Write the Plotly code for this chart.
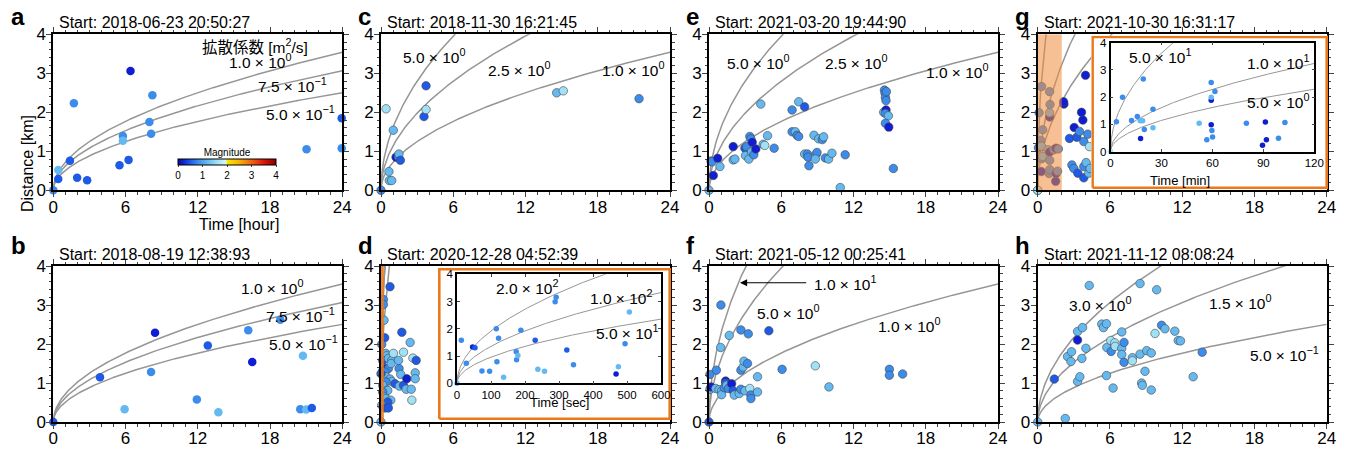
import numpy as np
import plotly.graph_objects as go

W, H = 1350, 451
FONT = "Liberation Sans, Arial, Noto Sans CJK JP, sans-serif"

# magnitude classes
N, B, M, L, P = 0.2, 0.5, 0.8, 1.2, 1.6

# ---------------- data (time [hour], distance [km], magnitude) ----------------
a_t = [0, 0.41, 0.41, 1.38, 1.71, 1.98, 2.81, 5.5, 5.78, 5.78, 6.25, 6.41, 7.98, 8.12, 8.23, 21.03, 23.95, 23.95]
a_r = [0, 0.52, 0.29, 0.76, 2.23, 0.32, 0.26, 0.64, 1.39, 1.27, 0.78, 3.06, 1.75, 1.45, 2.44, 1.05, 1.85, 1.08]
a_m = [M, L, B, B, M, B, B, B, M, L, B, N, M, M, M, M, B, M]

b_t = [0, 3.88, 5.92, 8.12, 8.45, 11.92, 12.83, 13.71, 16.19, 16.52, 18.85, 20.73, 20.51, 21.0, 21.47]
b_r = [0, 1.15, 0.33, 1.28, 2.29, 0.58, 1.96, 0.25, 2.35, 1.54, 2.62, 1.70, 0.33, 0.32, 0.36]
b_m = [B, B, L, M, N, M, B, L, M, N, M, L, M, L, B]

c_t = [0, 0.42, 0.66, 0.69, 0.89, 1.02, 1.25, 1.44, 1.49, 1.61, 3.57, 3.74, 3.74, 14.59, 15.14, 21.43]
c_r = [0, 2.09, 0.48, 0.25, 0.25, 1.54, 0.85, 0.86, 0.93, 0.77, 1.89, 2.68, 2.07, 2.50, 2.55, 2.35]
c_m = [M, P, L, L, L, L, N, M, L, B, B, B, P, L, P, M]

d_t = [0, 0.2, 0.2, 0.25, 0.31, 0.06, 0.75, 0.39, 0.42, 0.47,
       0.14, 0.14, 0.61, 0.61, 0.89, 1.03, 0.84, 0.33, 0.42, 0.75,
       0.89, 1.17, 0.42, 0.14, 0.47, 0.56, 0.14, 0.28, 0.42, 0.81,
       0.56, 0.06, 0.33, 0.61, 0.0, 1.45, 1.5, 1.73, 1.64, 1.53,
       1.87, 1.87, 2.14, 2.09, 2.42, 2.51, 2.56, 2.65, 2.84, 2.84,
       2.92]
d_r = [0, 3.14, 3.01, 2.61, 2.16, 1.99, 3.47, 1.76, 1.37, 1.70,
       1.58, 1.31, 1.63, 1.37, 1.58, 1.76, 1.50, 1.28, 1.16, 1.10,
       1.04, 0.98, 1.03, 0.94, 0.81, 0.81, 0.77, 0.64, 0.60, 0.56,
       0.51, 0.43, 0.36, 0.36, 1.24, 1.58, 1.37, 2.30, 1.22, 0.92,
       1.79, 0.94, 1.11, 0.84, 2.04, 0.84, 0.56, 1.64, 1.26, 1.11,
       1.58]
d_m = [L, M, M, L, B, M, B, L, N, L,
       B, N, L, M, L, P, L, M, L, L,
       L, B, M, L, L, L, M, L, L, L,
       B, L, B, B, B, L, M, B, L, L,
       P, B, N, L, L, L, P, P, L, L,
       B]

e_t = [0, 0.17, 0.25, 0.36, 0.72, 0.91, 2.01, 2.01, 2.15, 2.98,
       3.03, 3.31, 3.12, 3.39, 3.48, 3.59, 3.53, 3.72, 3.89, 4.30,
       4.50, 4.63, 4.86, 5.41, 6.90, 6.90, 7.17, 7.45, 7.31, 7.45,
       7.94, 7.94, 8.17, 8.22, 8.30, 8.72, 8.91, 8.97, 8.83, 9.10,
       9.41, 9.52, 9.66, 9.93, 10.21, 10.9, 11.31, 14.57, 14.62, 14.65,
       14.70, 14.73, 14.51, 14.70, 14.65, 14.90, 14.65, 14.93, 15.31]
e_r = [0, 0.75, 0.73, 0.38, 0.82, 0.61, 1.12, 0.78, 0.80, 1.08,
       0.89, 0.80, 1.12, 1.38, 1.32, 1.23, 0.99, 0.91, 1.06, 2.21,
       1.18, 1.15, 1.40, 1.08, 2.06, 1.50, 1.50, 2.27, 1.41, 1.38,
       2.14, 0.93, 0.93, 0.85, 0.63, 1.41, 0.93, 0.97, 0.80, 1.32,
       1.30, 1.37, 0.83, 0.80, 0.95, 0.07, 0.91, 2.57, 2.49, 2.38,
       2.30, 2.53, 2.00, 2.06, 1.97, 1.91, 1.72, 1.62, 0.56]
e_m = [L, M, M, N, N, L, N, L, L, B,
       L, L, M, M, M, N, L, M, N, L,
       L, P, L, M, M, M, L, L, M, M,
       B, L, M, M, M, L, L, M, L, L,
       M, L, M, L, L, L, M, M, M, M,
       M, M, L, N, M, L, M, N, M]

f_t = [0, 0.08, 0.08, 0.17, 0.61, 0.55, 0.83, 0.99, 0.97, 1.05,
       1.05, 1.27, 1.38, 1.38, 1.46, 1.6, 1.68, 1.88, 2.01, 2.1,
       2.51, 2.65, 2.65, 2.65, 2.84, 2.9, 2.98, 3.2, 3.26, 3.39,
       3.48, 3.48, 4.03, 4.03, 4.97, 6.07, 8.83, 9.96, 14.98, 14.98,
       16.08]
f_r = [0, 1.22, 0.84, 0.90, 1.33, 0.86, 0.83, 3.0, 1.91, 0.79,
       0.70, 0.88, 1.05, 1.0, 0.94, 0.86, 2.22, 0.98, 0.80, 0.69,
       0.73, 2.36, 1.33, 0.84, 1.41, 1.56, 0.80, 1.50, 2.26, 0.86,
       0.69, 0.60, 1.16, 0.77, 2.34, 1.35, 1.44, 0.90, 1.35, 1.20,
       1.23]
f_m = [B, M, L, N, M, L, L, M, L, L,
       L, M, N, B, L, M, L, N, B, L,
       L, M, M, M, L, L, L, M, M, P,
       M, M, L, L, B, M, P, L, M, M,
       M]

# panel g: events after the first two hours (hour) ...
g_t = [0, 2.18, 2.15, 2.64, 2.84, 3.0, 3.03, 3.25, 3.33, 3.47,
       3.64, 3.75, 3.83, 3.83, 3.83, 3.97, 4.02, 4.24, 4.3, 4.16, 4.35]
g_r = [0, 2.21, 2.27, 1.33, 0.65, 0.56, 1.61, 1.36, 0.44, 1.51,
       2.0, 1.80, 1.25, 0.61, 0.32, 2.95, 0.71, 0.44, 1.12, 1.44, 0.56]
g_m = [P, N, N, B, M, M, N, B, B, M,
       N, N, M, M, B, N, L, L, P, M, L]

# ... and the first two hours (minutes), shown in the inset
gi_t = [0, 3.5, 7.1, 12.4, 15.8, 17.7, 17.5, 18.9, 19.3, 19.9,
        25.0, 25.0, 52.2, 56.7, 59.3, 59.3, 59.3, 59.3, 59.7, 60.1,
        61.5, 80.0, 89.5, 91.2, 91.8, 98.9, 102.7]
gi_r = [0, 1.09, 1.99, 1.14, 1.28, 0.48, 1.13, 1.13, 2.66, 0.81,
        1.55, 0.87, 1.04, 0.43, 2.53, 1.88, 1.99, 0.98, 0.77, 0.53,
        2.20, 1.04, 0.23, 1.08, 0.43, 0.49, 1.06]
gi_m = [P, M, M, M, M, N, L, L, M, M,
        M, L, L, M, M, N, L, N, M, M,
        M, M, N, N, N, M, M]

# panel d inset: first 600 s (seconds)
di_t = [0, 12.7, 27.4, 46, 52.9, 73.4, 95.9, 115.5, 117.4, 122.3,
        137, 174.2, 175.2, 179.1, 187.9, 230, 237.8, 257.4, 288.7, 291.7,
        323, 342.6, 467.8, 474.7, 494.3, 507]
di_r = [0, 1.58, 0.74, 1.33, 1.30, 0.45, 0.44, 2.0, 0.79, 1.65,
        0.22, 1.16, 0.86, 1.02, 1.95, 1.58, 0.52, 0.44, 2.99, 3.16,
        1.22, 0.68, 0.34, 0.61, 1.45, 2.62]
di_m = [L, M, M, N, B, M, M, M, M, M,
        L, M, M, L, M, B, L, L, M, M,
        B, M, N, L, M, L]

h_t = [0, 1.38, 2.29, 2.48, 2.76, 2.81, 3.31, 3.31, 3.31, 3.5,
       3.67, 3.72, 4.0, 4.28, 5.32, 5.46, 5.71, 5.71, 5.74, 6.07,
       6.1, 6.26, 6.4, 6.43, 6.98, 6.98, 6.98, 7.17, 7.17, 7.86,
       7.86, 8.5, 8.5, 8.63, 8.69, 8.91, 9.05, 9.43, 9.43, 9.74,
       9.88, 10.29, 10.57, 11.39, 11.67, 11.86, 12.91, 13.66]
h_r = [0, 1.10, 0.09, 1.68, 1.55, 1.80, 2.32, 2.10, 1.04, 1.16,
       1.63, 2.42, 1.89, 3.50, 2.51, 2.42, 2.52, 1.19, 1.91, 2.09,
       1.81, 0.87, 2.03, 1.94, 2.31, 1.89, 1.73, 2.04, 1.53, 1.65,
       1.57, 3.55, 1.74, 1.0, 0.94, 1.30, 1.83, 1.77, 0.82, 2.27,
       3.39, 2.48, 2.39, 2.33, 2.09, 2.08, 1.16, 1.79]
h_m = [L, B, L, L, L, L, L, N, L, L,
       L, L, L, L, L, L, L, L, L, P,
       M, L, P, P, L, L, L, M, M, L,
       P, L, L, L, L, L, L, L, L, P,
       L, M, L, L, L, L, L, M]

titles = ["Start: 2018-06-23 20:50:27", "Start: 2018-11-30 16:21:45",
          "Start: 2021-03-20 19:44:90", "Start: 2021-10-30 16:31:17",
          "Start: 2018-08-19 12:38:93", "Start: 2020-12-28 04:52:39",
          "Start: 2021-05-12 00:25:41", "Start: 2021-11-12 08:08:24"]
letters = ["a", "c", "e", "g", "b", "d", "f", "h"]

# diffusion coefficients [m^2/s] for the guide curves
D_a = [1.0, 0.75, 0.5]
D_c = [5.0, 2.5, 1.0]
D_e = [5.0, 2.5, 1.0]
D_g = [50.0, 10.0, 5.0]
D_b = [1.0, 0.75, 0.5]
D_d = [200.0, 100.0, 50.0]
D_f = [10.0, 5.0, 1.0]
D_h = [3.0, 1.5, 0.5]

def sup(m, e):
    return f"{m} × 10<sup>{e}</sup>"

lab_a = [(16.75, 3.69, "拡散係数 [m<sup>2</sup>/s]"), (17.15, 3.32, sup("1.0", "0")),
         (19.9, 2.69, sup("7.5", "−1")), (20.5, 1.97, sup("5.0", "−1"))]
lab_c = [(4.4, 3.44, sup("5.0", "0")), (11.46, 3.12, sup("2.5", "0")), (20.9, 3.12, sup("1.0", "0"))]
lab_e = [(4.1, 3.29, sup("5.0", "0")), (12.2, 3.29, sup("2.5", "0")), (20.6, 3.05, sup("1.0", "0"))]
lab_g = []
lab_b = [(18.2, 3.47, sup("1.0", "0")), (20.5, 2.74, sup("7.5", "−1")), (20.8, 2.02, sup("5.0", "−1"))]
lab_d = []
lab_f = [(11.3, 3.56, sup("1.0", "1")), (6.6, 2.81, sup("5.0", "0")), (16.6, 2.49, sup("1.0", "0"))]
lab_h = [(5.2, 3.02, sup("3.0", "0")), (16.8, 3.07, sup("1.5", "0")), (20.5, 1.74, sup("5.0", "−1"))]
lab_di = [(205, 3.53, sup("2.0", "2")), (482, 3.16, sup("1.0", "2")), (499, 1.88, sup("5.0", "1"))]
lab_gi = [(29.1, 3.5, sup("5.0", "1")), (98.6, 3.29, sup("1.0", "1")), (98.6, 1.85, sup("5.0", "0"))]

# ---------------- styling / layout ----------------
C_MAIN = 3.54 / np.sqrt(24.0)     # km per sqrt(m^2/s * hour)
C_DINS = 0.816
ORANGE = "rgb(235,120,25)"
GREY = "rgb(150,150,150)"
COLORSCALE = [[0.0, "rgb(10,10,140)"], [0.05, "rgb(15,30,210)"], [0.125, "rgb(30,90,230)"],
              [0.2, "rgb(60,140,235)"], [0.3, "rgb(100,185,240)"], [0.4, "rgb(160,225,245)"],
              [0.49, "rgb(215,245,250)"], [0.5, "rgb(250,230,0)"], [0.62, "rgb(250,180,0)"],
              [0.75, "rgb(240,100,20)"], [0.88, "rgb(220,20,10)"], [1.0, "rgb(130,0,0)"]]

COL_LEFT = [53.3, 381.0, 709.0, 1037.7]
PW = 289.0
ROW_TOP = [34.3, 266.0]
PH = 156.0

panels = [
    (a_t, a_r, a_m, D_a, lab_a, False),
    (c_t, c_r, c_m, D_c, lab_c, True),
    (e_t, e_r, e_m, D_e, lab_e, True),
    (g_t + [t / 60 for t in gi_t], g_r + gi_r, g_m + gi_m, D_g, lab_g, True),
    (b_t, b_r, b_m, D_b, lab_b, False),
    (d_t, d_r, d_m, D_d, lab_d, True),
    (f_t, f_r, f_m, D_f, lab_f, True),
    (h_t, h_r, h_m, D_h, lab_h, True),
]

fig = go.Figure()
layout = dict(template="none", width=W, height=H, margin=dict(l=0, r=0, t=0, b=0, autoexpand=False),
              paper_bgcolor="white", plot_bgcolor="white", showlegend=False,
              font=dict(family=FONT, color="black", size=16))
annotations = []
shapes = []

def main_axes(n, left, top):
    xa = dict(domain=[left / W, (left + PW) / W], anchor=f"y{n}", range=[0, 24],
              tickvals=[0, 6, 12, 18, 24], ticks="outside", ticklen=5, tickwidth=1,
              minor=dict(dtick=1, tick0=0, ticks="outside", ticklen=2.5, tickwidth=1),
              showline=True, linewidth=2, linecolor="black", mirror="allticks", automargin=False,
              showgrid=False, zeroline=False, tickfont=dict(size=17), ticklabelstandoff=-5)
    ya = dict(domain=[1 - (top + PH) / H, 1 - top / H], anchor=f"x{n}", range=[0, 4],
              tickvals=[0, 1, 2, 3, 4], ticks="outside", ticklen=5, tickwidth=1,
              minor=dict(dtick=0.2, tick0=0, ticks="outside", ticklen=2.5, tickwidth=1),
              showline=True, linewidth=2, linecolor="black", mirror="allticks", automargin=False,
              showgrid=False, zeroline=False, tickfont=dict(size=17), ticklabelstandoff=-3)
    return xa, ya

t_curve = np.concatenate([np.linspace(0, 0.2, 200), np.linspace(0.2, 24, 400)])

for i, (tt, rr, mm, Ds, labs, outline) in enumerate(panels):
    n = i + 1
    row, col = divmod(i, 4)
    left, top = COL_LEFT[col], ROW_TOP[row]
    xa, ya = main_axes(n, left, top)
    layout[f"xaxis{n}" if n > 1 else "xaxis"] = xa
    layout[f"yaxis{n}" if n > 1 else "yaxis"] = ya
    xr, yr = ("x", "y") if n == 1 else (f"x{n}", f"y{n}")
    for D in Ds:
        fig.add_trace(go.Scatter(x=t_curve, y=C_MAIN * np.sqrt(D * t_curve), mode="lines",
                                 line=dict(color=GREY, width=1.5), xaxis=xr, yaxis=yr,
                                 hoverinfo="skip"))
    fig.add_trace(go.Scatter(x=tt, y=rr, mode="markers", xaxis=xr, yaxis=yr, cliponaxis=False,
                             marker=dict(size=8.5, color=mm, coloraxis="coloraxis",
                                         line=dict(width=0.6 if outline else 0, color="rgb(70,70,70)"))))
    for (x, y, txt) in labs:
        annotations.append(dict(x=x, y=y, xref=xr, yref=yr, text=txt, showarrow=False,
                                font=dict(size=15.5), xanchor="center", yanchor="middle"))
    # title and letter
    annotations.append(dict(x=(left + 4) / W, y=1 - (22.5 + row * 231.5) / H, xref="paper", yref="paper",
                            text=titles[i], showarrow=False, xanchor="left", yanchor="middle",
                            font=dict(size=16)))
    lx = 9 if col == 0 else left - 25
    annotations.append(dict(x=lx / W, y=1 - (16 + row * 230) / H, xref="paper", yref="paper",
                            text=f"<b>{letters[i]}</b>", showarrow=False, xanchor="left",
                            yanchor="middle", font=dict(size=24)))

# arrow in panel f
annotations.append(dict(x=2.57, y=3.57, ax=8.2, ay=3.57, xref="x7", yref="y7", axref="x7", ayref="y7",
                        text="", showarrow=True, arrowhead=2, arrowsize=1.2, arrowwidth=1.2,
                        arrowcolor="black"))

# axis titles (panel a)
annotations.append(dict(x=17 / W, y=1 - 113 / H, xref="paper", yref="paper", text="Distance [km]",
                        textangle=-90, showarrow=False, font=dict(size=16)))
annotations.append(dict(x=197 / W, y=1 - 224 / H, xref="paper", yref="paper", text="Time [hour]",
                        showarrow=False, font=dict(size=16)))

# highlighted time windows
shapes.append(dict(type="rect", xref="x4", yref="y4", x0=0, x1=2, y0=0, y1=4, layer="above",
                   fillcolor="rgba(240,140,60,0.55)", line=dict(width=0)))
shapes.append(dict(type="rect", xref="x6", yref="y6", x0=0, x1=600 / 3600, y0=0, y1=4, layer="above",
                   fillcolor="rgba(240,140,60,0.55)", line=dict(width=1.5, color=ORANGE)))

# white boxes (own subplots, drawn above the main panels)
boxes = [(9, 438.0, 671.0, 268.0, 420.0), (10, 1091.3, 1328.0, 35.7, 189.0)]
for n, x0, x1, y0, y1 in boxes:
    layout[f"xaxis{n}"] = dict(domain=[x0 / W, x1 / W], anchor=f"y{n}", range=[0, 1], visible=False,
                               automargin=False)
    layout[f"yaxis{n}"] = dict(domain=[1 - y1 / H, 1 - y0 / H], anchor=f"x{n}", range=[0, 1], visible=False,
                               automargin=False)
    ex, ey = 1.3 / (x1 - x0), 1.3 / (y1 - y0)
    fig.add_trace(go.Scatter(x=[ex, 1 - ex, 1 - ex, ex, ex], y=[ey, ey, 1 - ey, 1 - ey, ey],
                             mode="lines", fill="toself", fillcolor="white",
                             line=dict(color=ORANGE, width=2.6), xaxis=f"x{n}", yaxis=f"y{n}",
                             hoverinfo="skip"))

# insets
insets = [
    (11, 457.0, 661.0, 274.3, 383.3, [0, 600], [0, 100, 200, 300, 400, 500, 600], "Time [sec]",
     di_t, di_r, di_m, D_d, C_DINS / np.sqrt(3600.0), lab_di, 600),
    (12, 1110.5, 1314.3, 42.5, 151.5, [0, 120], [0, 30, 60, 90, 120], "Time [min]",
     gi_t, gi_r, gi_m, D_g, C_MAIN / np.sqrt(60.0), lab_gi, 120),
]
for (n, x0, x1, y0, y1, xrng, xt, xtitle, tt, rr, mm, Ds, cc, labs, tmax) in insets:
    layout[f"xaxis{n}"] = dict(domain=[x0 / W, x1 / W], anchor=f"y{n}", range=xrng, tickvals=xt,
                               ticks="inside", ticklen=3, showline=True, linewidth=1.5,
                               linecolor="black", mirror="allticks", showgrid=False, zeroline=False,
                               tickfont=dict(size=11.5), automargin=False)
    layout[f"yaxis{n}"] = dict(domain=[1 - y1 / H, 1 - y0 / H], anchor=f"x{n}", range=[0, 4],
                               tickvals=[0, 1, 2, 3, 4], ticks="inside", ticklen=3, showline=True,
                               linewidth=1.5, linecolor="black", mirror="allticks", showgrid=False,
                               zeroline=False, tickfont=dict(size=11.5), automargin=False)
    tc = np.concatenate([np.linspace(0, tmax / 100, 100), np.linspace(tmax / 100, tmax, 300)])
    for D in Ds:
        fig.add_trace(go.Scatter(x=tc, y=cc * np.sqrt(D * tc), mode="lines",
                                 line=dict(color=GREY, width=1), xaxis=f"x{n}", yaxis=f"y{n}",
                                 hoverinfo="skip"))
    fig.add_trace(go.Scatter(x=tt, y=rr, mode="markers", xaxis=f"x{n}", yaxis=f"y{n}", cliponaxis=False,
                             marker=dict(size=5.5, color=mm, coloraxis="coloraxis", line=dict(width=0))))
    for (x, y, txt) in labs:
        annotations.append(dict(x=x, y=y, xref=f"x{n}", yref=f"y{n}", text=txt, showarrow=False,
                                font=dict(size=15.5), xanchor="center", yanchor="middle"))
    annotations.append(dict(x=(x0 + x1) / 2 / W, y=1 - (y1 + 28.5) / H, xref="paper", yref="paper",
                            text=xtitle, showarrow=False, font=dict(size=13)))

layout["coloraxis"] = dict(cmin=0, cmax=4, colorscale=COLORSCALE,
                           colorbar=dict(orientation="h", x=227 / W, xanchor="center",
                                         y=1 - 148 / H, yanchor="top", lenmode="pixels", len=98,
                                         thickness=6, outlinewidth=1, outlinecolor="black",
                                         tickvals=[0, 1, 2, 3, 4], ticks="outside", ticklen=2,
                                         tickfont=dict(size=10), xpad=0, ypad=0,
                                         title=dict(text="Magnitude", side="top",
                                                    font=dict(size=10))))
layout["annotations"] = annotations
layout["shapes"] = shapes
fig.update_layout(**layout)
fig.write_html("out.html", config={"displayModeBar": False},
               post_script="document.body.style.margin='0';document.body.style.overflow='hidden';")
